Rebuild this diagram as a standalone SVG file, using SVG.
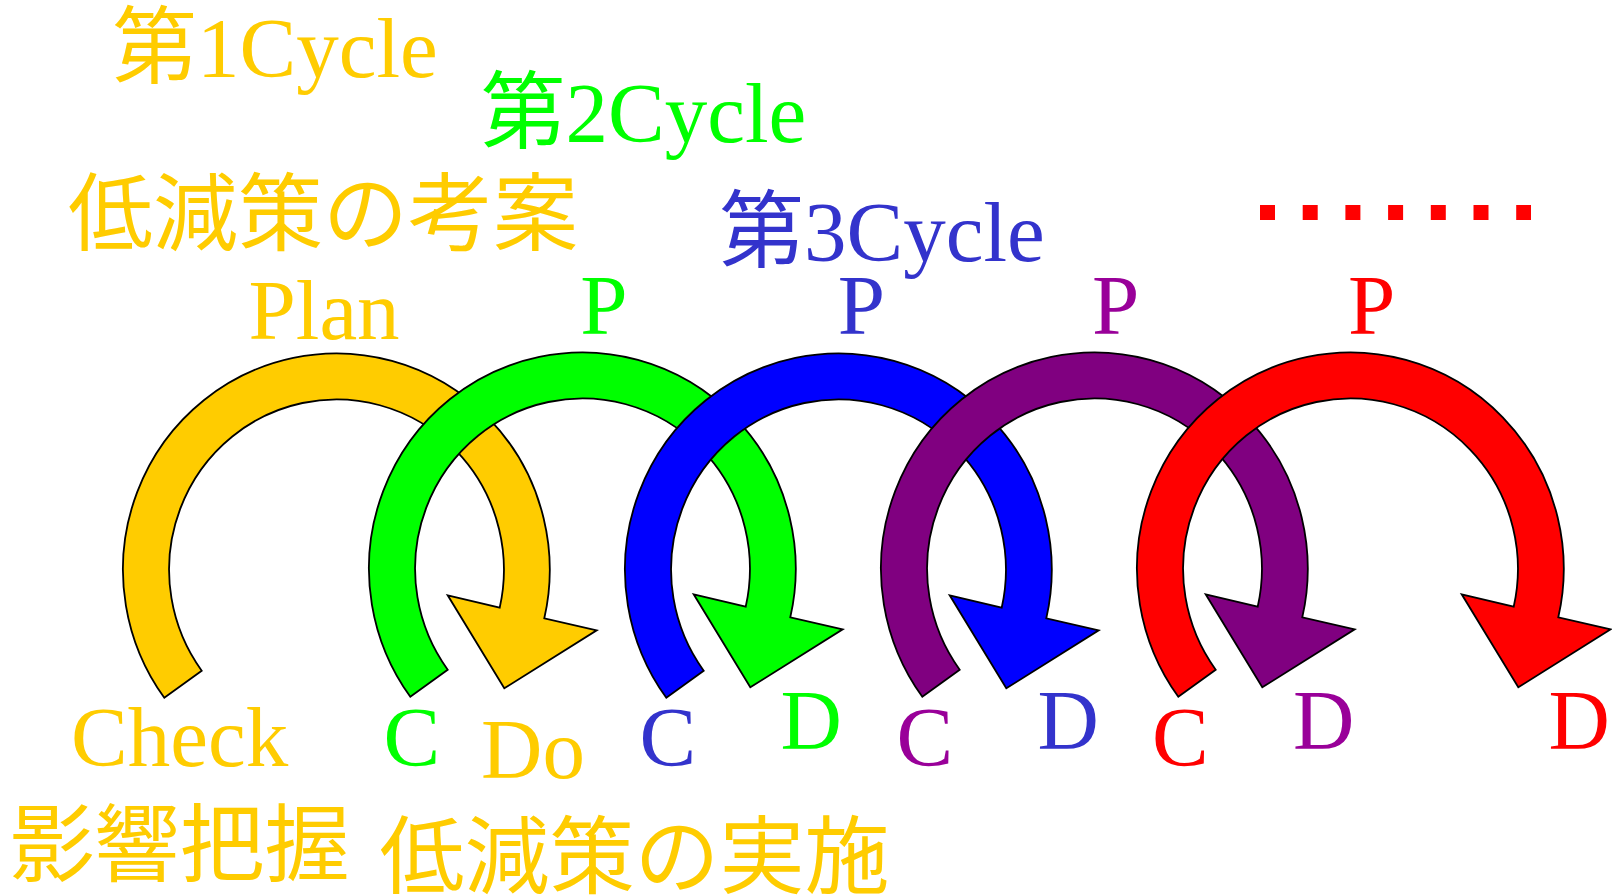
<svg xmlns="http://www.w3.org/2000/svg" xmlns:xlink="http://www.w3.org/1999/xlink" width="1612" height="896" viewBox="0 0 1612 896">
  <style>
    text { font-family: "Liberation Serif", "Noto Sans CJK JP", serif; font-size: 85px; }
    .jp { font-family: "Noto Sans CJK JP", "Liberation Sans", sans-serif; }
    .lat { font-family: "Liberation Serif", serif; }
    .arrow { stroke: #000; stroke-width: 1.8; stroke-linejoin: miter; }
    .c1 { fill: #FFCC00; }
    .c2 { fill: #00FF00; }
    .c3t { fill: #3333CC; }
    .c3 { fill: #0000FF; }
    .c4t { fill: #990099; }
    .c4 { fill: #800080; }
    .c5 { fill: #FF0000; }
  </style>
  <defs>
    <!-- circular arrow: tail at lower left, sweeps over the top, head at lower right -->
    <path id="loop" d="M164.3,697.7 A213.4,216.3 0 1 1 544.3,618.3 L596.7,630.3 L504.3,688.3 L447.7,595.3 L499.7,607.7 A167.4,170.3 0 1 0 201.7,670.7 Z"/>
  </defs>

  <rect width="1612" height="896" fill="#fff"/>

  <g id="connectors">
    <use xlink:href="#loop" href="#loop" class="arrow c1"/>
    <use xlink:href="#loop" href="#loop" class="arrow c2" transform="translate(246,-1)"/>
    <use xlink:href="#loop" href="#loop" class="arrow c3" transform="translate(502,0)"/>
    <use xlink:href="#loop" href="#loop" class="arrow c4" transform="translate(758,-1)"/>
    <use xlink:href="#loop" href="#loop" class="arrow c5" transform="translate(1014,-1)"/>
  </g>

  <g id="cycle1" class="c1">
    <text x="112" y="77"><tspan class="jp">第</tspan><tspan class="lat">1Cycle</tspan></text>
    <text class="jp" x="68" y="244">低減策の考案</text>
    <text x="248.5" y="339">Plan</text>
    <text x="71" y="766">Check</text>
    <text x="481" y="778">Do</text>
    <text class="jp" x="9.5" y="875">影響把握</text>
    <text class="jp" x="379.5" y="887">低減策の実施</text>
  </g>

  <g id="cycle2" class="c2">
    <text x="480.5" y="141.7"><tspan class="jp">第</tspan><tspan class="lat">2Cycle</tspan></text>
    <text x="580.3" y="333.5">P</text>
    <text x="383.5" y="766">C</text>
    <text x="780.5" y="749.3">D</text>
  </g>

  <g id="cycle3" class="c3t">
    <text x="719" y="260.7"><tspan class="jp">第</tspan><tspan class="lat">3Cycle</tspan></text>
    <text x="837.7" y="333.5">P</text>
    <text x="639.5" y="766">C</text>
    <text x="1037.5" y="749.3">D</text>
  </g>

  <g id="cycle4" class="c4t">
    <text x="1092" y="333.5">P</text>
    <text x="896.5" y="766">C</text>
    <text x="1293" y="749.3">D</text>
  </g>

  <g id="cycle5" class="c5">
    <text x="1348" y="333.5">P</text>
    <text x="1152" y="766">C</text>
    <text x="1548.5" y="749.3">D</text>
    <line id="continuation" x1="1260" y1="212.5" x2="1531" y2="212.5" stroke="#FF0000" stroke-width="15" stroke-dasharray="15 27.7"/>
  </g>
</svg>
